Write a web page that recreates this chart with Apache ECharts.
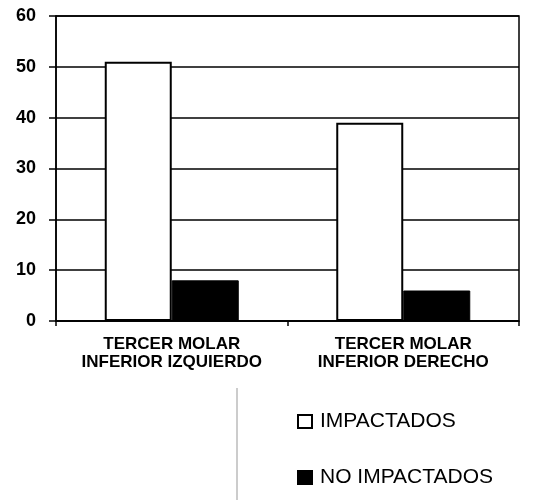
<!DOCTYPE html>
<html><head><meta charset="utf-8">
<script src="https://cdn.jsdelivr.net/npm/echarts@6/dist/echarts.min.js"></script>
<style>html,body{margin:0;padding:0;background:#fff}#c{width:550px;height:500px}</style>
</head><body><div id="c"></div>
<script>
const categories = ['TERCER MOLAR\nINFERIOR IZQUIERDO', 'TERCER MOLAR\nINFERIOR DERECHO'];
const seriesNames = ['IMPACTADOS', 'NO IMPACTADOS'];
const impactados = [51, 39];
const noImpactados = [8, 6];
const yTicks = [0, 10, 20, 30, 40, 50, 60];

const chart = echarts.init(document.getElementById('c'));
const font = '"Liberation Sans", Arial, sans-serif';
const legendBase = {
  orient: 'vertical', left: 292, itemWidth: 14, itemHeight: 13, icon: 'rect',
  textStyle: { fontFamily: font, fontSize: 21, color: '#000', padding: [0, 0, 0, 3] }
};
chart.setOption({
  animation: false,
  backgroundColor: '#fff',
  grid: { left: 56, right: 31, top: 16, bottom: 179, show: true, borderColor: '#000', borderWidth: 1.5, containLabel: false },
  legend: [
    Object.assign({}, legendBase, { top: 406, data: [seriesNames[0]] }),
    Object.assign({}, legendBase, { top: 462, data: [seriesNames[1]] })
  ],
  xAxis: {
    type: 'category', data: categories,
    axisLine: { lineStyle: { color: '#000', width: 1.5 } },
    axisTick: { show: true, length: 5, lineStyle: { color: '#000', width: 1.5 } },
    axisLabel: { interval: 0, hideOverlap: false, fontFamily: font, fontSize: 17, fontWeight: 'bold', color: '#000', lineHeight: 18, margin: 14 }
  },
  yAxis: {
    type: 'value', min: yTicks[0], max: yTicks[yTicks.length - 1], interval: 10,
    axisLine: { show: true, lineStyle: { color: '#000', width: 1.5 } },
    axisTick: { show: true, length: 7, lineStyle: { color: '#000', width: 1.5 } },
    axisLabel: { fontFamily: font, fontSize: 18, fontWeight: 'bold', color: '#000', margin: 20 },
    splitLine: { lineStyle: { color: '#000', width: 1.5 } }
  },
  series: [
    { name: seriesNames[0], type: 'bar', data: impactados, barWidth: 67, barGap: '0%',
      itemStyle: { color: '#fff', borderColor: '#000', borderWidth: 2 } },
    { name: seriesNames[1], type: 'bar', data: noImpactados, barWidth: 67,
      itemStyle: { color: '#000', borderColor: '#000', borderWidth: 1 } }
  ],
  graphic: [
    { type: 'line', shape: { x1: 237, y1: 388, x2: 237, y2: 500 }, style: { stroke: '#999', lineWidth: 1 } }
  ]
});
</script></body></html>
